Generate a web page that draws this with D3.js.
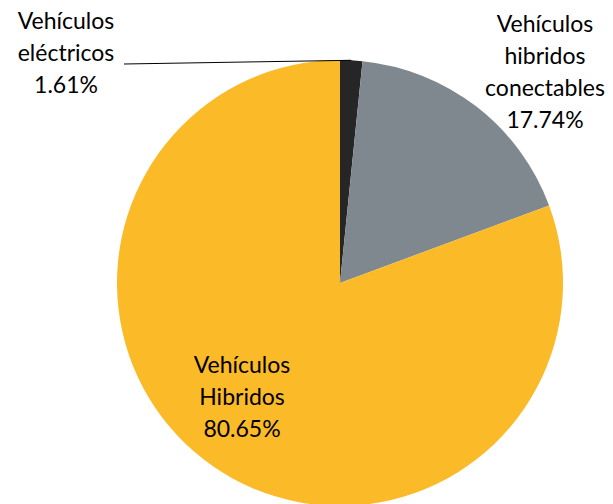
<!DOCTYPE html>
<meta charset="utf-8">
<head>
<style>
body { margin: 0; background: #fff; }
.lbl { font-family: Lato, "Open Sans", sans-serif; font-size: 23px; font-weight: 400; fill: #000; }
</style>
</head>
<script src="https://d3js.org/d3.v7.min.js"></script>
<div id="chart"></div>
<script>
// data
var categories = ["Vehículos eléctricos", "Vehículos hibridos conectables", "Vehículos Hibridos"];
var values = [1.61, 17.74, 80.65];
var labelLines = [
  ["Vehículos", "eléctricos", "1.61%"],
  ["Vehículos", "hibridos", "conectables", "17.74%"],
  ["Vehículos", "Hibridos", "80.65%"]
];
var colors = ["#262626", "#7f888e", "#fbba27"];

var width = 613, height = 504;
var cx = 340, cy = 283, r = 223;

var svg = d3.select("#chart").append("svg")
    .attr("width", width)
    .attr("height", height);

var g = svg.append("g").attr("transform", "translate(" + cx + "," + cy + ")");

var pie = d3.pie().sort(null).value(function(d) { return d; });
var arcs = pie(values);
var arc = d3.arc().innerRadius(0).outerRadius(r);

g.selectAll("path")
  .data(arcs)
  .enter()
  .append("path")
    .attr("d", arc)
    .attr("fill", function(d, i) { return colors[i]; });

// label anchors (page coords) and line spacing
var labelPos = [[66, 29], [545, 32], [242, 373]];
var lineH = 32;

labelLines.forEach(function(lines, i) {
  var t = svg.append("text")
    .attr("class", "lbl")
    .attr("text-anchor", "middle");
  lines.forEach(function(s, j) {
    t.append("tspan")
      .attr("x", labelPos[i][0])
      .attr("y", labelPos[i][1] + j * lineH)
      .text(s);
  });
});

// leader line for the small slice
var mid = (arcs[0].startAngle + arcs[0].endAngle) / 2;
var ex = cx + Math.sin(mid) * r, ey = cy - Math.cos(mid) * r;
svg.append("polyline")
  .attr("points", [[124, 64], [ex, ey]].map(function(p) { return p.join(","); }).join(" "))
  .attr("fill", "none")
  .attr("stroke", "#000")
  .attr("stroke-width", 1);
</script>
